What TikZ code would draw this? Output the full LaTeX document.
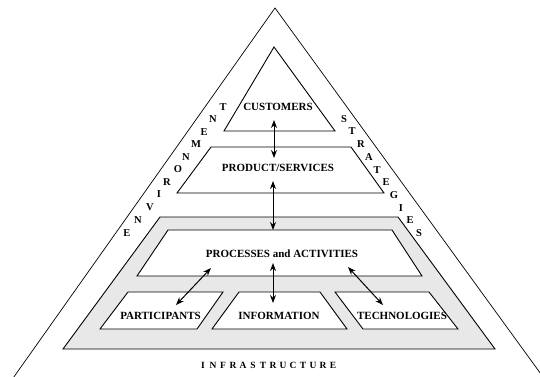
\documentclass[tikz,border=0pt]{standalone}
\usepackage{fontspec}
\setmainfont{Liberation Serif}
\usetikzlibrary{arrows.meta}
\begin{document}
\begin{tikzpicture}[x=1pt,y=-1pt,
  outl/.style={draw=black,line width=0.9pt,line join=miter},
  lbl/.style={font=\fontsize{11}{13}\selectfont\bfseries,inner sep=0pt},
  side/.style={font=\fontsize{10.5}{12}\selectfont\bfseries,inner sep=0pt},
  infra/.style={font=\fontsize{9.5}{11}\selectfont\bfseries,inner sep=0pt},
  dbl/.style={{Stealth[length=8pt,width=6pt]}-{Stealth[length=8pt,width=6pt]},line width=1pt}]
\useasboundingbox (0,0) rectangle (540,376);
\clip (0,0) rectangle (540,376);
% outer triangle
\coordinate (apex) at (275,8);
\coordinate (bl) at (11,381);
\coordinate (br) at (546,381);
\draw[line width=0.7pt] (bl) -- (apex) -- (br);
% customers triangle
\draw[outl] (224,131) -- (274,47) -- (335,131) -- cycle;
% product/services
\draw[outl] (177,193) -- (211,147) -- (351,147) -- (384,193) -- cycle;
% gray band
\draw[outl,fill=gray!18] (63,349) -- (160,217) -- (398,217) -- (495,349) -- cycle;
% processes
\draw[outl,fill=white] (137,276) -- (168,230) -- (392,230) -- (422,276) -- cycle;
% participants
\draw[outl,fill=white] (100,329) -- (128,292) -- (223,292) -- (197,329) -- cycle;
% information
\draw[outl,fill=white] (212,329) -- (239,292) -- (320,292) -- (347,329) -- cycle;
% technologies
\draw[outl,fill=white] (363,329) -- (335,292) -- (429,292) -- (458,329) -- cycle;
% labels
\node[lbl] (cust) at (278,107) {CUSTOMERS};
\node[lbl] (prod) at (278,168) {PRODUCT/SERVICES};
\node[lbl] (proc) at (282,254) {PROCESSES and ACTIVITIES};
\node[lbl] (part) at (160.5,316) {PARTICIPANTS};
\node[lbl] (info) at (279,316) {INFORMATION};
\node[lbl] (tech) at (402,316) {TECHNOLOGIES};
% arrows
\coordinate (a1s) at (274,120); \coordinate (a1e) at (274,158);
\coordinate (a2s) at (273,181); \coordinate (a2e) at (273,230);
\coordinate (a3s) at (273,263); \coordinate (a3e) at (273,303);
\coordinate (a4s) at (211,268); \coordinate (a4e) at (176,305);
\coordinate (a5s) at (348,267); \coordinate (a5e) at (383,305);
\draw[dbl] (a1s) -- (a1e);
\draw[dbl] (a2s) -- (a2e);
\draw[dbl] (a3s) -- (a3e);
\draw[dbl] (a4s) -- (a4e);
\draw[dbl] (a5s) -- (a5e);
% ENVIRONMENT
\foreach \ch/\px/\py [count=\i] in {E/127/233,N/138/220,V/150/207,I/159/194,R/167/182,O/178/169,N/186/157,M/196/144,E/204/132,N/213/119,T/223/107}
  \node[side] (env\i) at (\px,\py) {\ch};
% STRATEGIES
\foreach \ch/\px/\py [count=\i] in {S/344/119,T/352/131,R/361/144,A/369/157,T/377/170,E/386/182,G/394/195,I/401/208,E/410/220,S/419/233}
  \node[side] (str\i) at (\px,\py) {\ch};
% INFRASTRUCTURE
\foreach \ch [count=\i] in {I,N,F,R,A,S,T,R,U,C,T,U,R,E}
  \node[infra] (inf\i) at ({203+(\i-1)*10},365) {\ch};
\end{tikzpicture}
\end{document}
